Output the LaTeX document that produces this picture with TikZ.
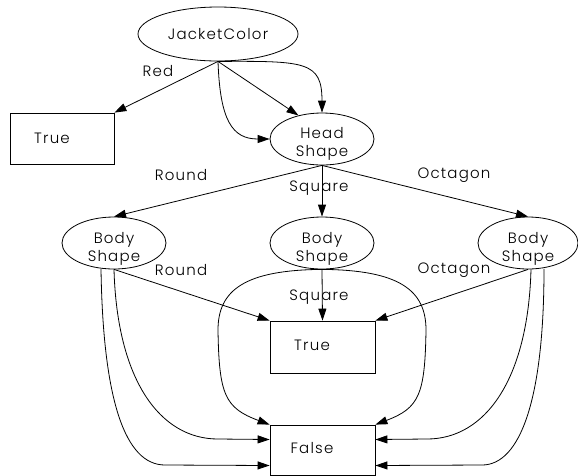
\documentclass[tikz,border=0pt]{standalone}
\usepackage{fontspec}
\setmainfont{Poppins Light}[LetterSpace=8]
\usetikzlibrary{arrows.meta,shapes.geometric,calc}

\begin{document}
\begin{tikzpicture}[x=1pt,y=-1pt,
  every node/.style={font=\fontsize{15}{17.5}\selectfont},
  oval/.style={draw,ellipse,line width=0.8pt,minimum width=104pt,minimum height=52pt,inner sep=0pt},
  leaf/.style={draw,rectangle,line width=0.8pt,minimum width=105pt,minimum height=52pt,inner sep=0pt},
  arr/.style={line width=0.8pt,-{Triangle[length=12pt,width=8pt]}},
  lbl/.style={inner sep=0pt}]
\useasboundingbox (0,0) rectangle (578,475);

% nodes
\node[oval,minimum width=160pt,minimum height=54pt] (jc) at (218,34) {JacketColor};
\node[leaf,minimum width=104pt,minimum height=51pt] (t1) at (62,138.5) {};
\node[lbl] (t1t) at (52,138) {True};
\node[oval] (hs) at (322,139) {};
\node[lbl,align=center] (hst) at (322,144) {Head\\Shape};
\node[oval] (lb) at (114,243) {};
\node[lbl,align=center] (lbt) at (114,249) {Body\\Shape};
\node[oval] (mb) at (322,243) {};
\node[lbl,align=center] (mbt) at (322,249) {Body\\Shape};
\node[oval,minimum width=100pt] (rb) at (528,243) {};
\node[lbl,align=center] (rbt) at (528,249) {Body\\Shape};
\node[leaf] (t2) at (322.5,347) {};
\node[lbl] (t2t) at (312,345) {True};
\node[leaf,minimum height=50pt] (f) at (322.5,450) {};
\node[lbl] (ft) at (312,448) {False};

% edge labels
\node[lbl] (lred) at (158,71) {Red};
\node[lbl] (lr1) at (181,175) {Round};
\node[lbl] (ls1) at (319,188) {Square};
\node[lbl] (lo1) at (454,175) {Octagon};
\node[lbl] (lr2) at (181,270) {Round};
\node[lbl] (ls2) at (319,297) {Square};
\node[lbl] (lo2) at (454,270) {Octagon};

% jacket colour edges
\draw[arr] (jc.south) -- (t1.north east);
\draw[arr] (jc.south) -- (hs.135);
\draw[arr] (jc.south) .. controls (220,120) and (232,139) .. (hs.west);
\draw[arr] (jc.south) .. controls (305,61) and (322,61) .. (hs.north);

% head shape edges
\draw[arr] (hs.south) -- (lb.north);
\draw[arr] (hs.south) -- (mb.north);
\draw[arr] (hs.south) -- (rb.north);

% body shape to true
\draw[arr] (lb.south) -- (t2.north west);
\draw[arr] (mb.south) -- (t2.north);
\draw[arr] (rb.south) -- (t2.north east);

% body shape to false
\draw[arr] (mb.south) .. controls (245,270) and (218,290) .. (218,330)
  .. controls (219,395) and (225,408) .. (f.north west);
\draw[arr] (mb.south) .. controls (399,270) and (426,290) .. (426,330)
  .. controls (425,395) and (419,408) .. (f.north east);
\draw[arr] (lb.south) .. controls (117,380) and (160,439) .. (218,439) -- ($(f.west)+(0,-10.5)$);
\draw[arr] ($(lb.south)+(-13,-0.5)$) .. controls (103,400) and (125,465) .. (165,465) -- ($(f.west)+(0,15.5)$);
\draw[arr] ($(rb.south)+(3,0)$) .. controls (528,380) and (485,439) .. (427,439) -- ($(f.east)+(0,-10.5)$);
\draw[arr] ($(rb.south)+(16,-0.5)$) .. controls (544,400) and (520,465) .. (482,465) -- ($(f.east)+(0,15.5)$);
\end{tikzpicture}
\end{document}
